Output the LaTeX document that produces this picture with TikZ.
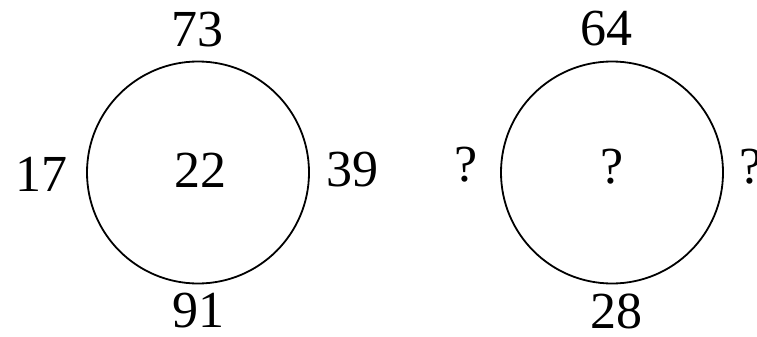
\documentclass[tikz,border=0pt]{standalone}
\usepackage{fontspec}
\setmainfont{Liberation Serif}
\usepackage{tikz}
\usetikzlibrary{positioning}
\tikzset{
  ringnode/.style={draw=black,line width=1.8pt,circle,minimum size=222pt,inner sep=0pt},
  numlabel/.style={font=\fontsize{52}{60}\selectfont,inner sep=0pt}
}
\begin{document}
\begin{tikzpicture}[x=1pt,y=-1pt]
  \useasboundingbox (0,0) rectangle (757,337);
  % left ring, all numbers given
  \node[ringnode] (ringA) at (198,172.5) {};
  \node[numlabel] (topA) at (197,30) {73};
  \node[numlabel] (leftA) at (41,174) {17};
  \node[numlabel] (midA) at (200,170) {22};
  \node[numlabel] (rightA) at (352,170) {39};
  \node[numlabel] (botA) at (198,311) {91};

  % right ring, the unknowns
  \node[ringnode] (ringB) at (612,172.5) {};
  \node[numlabel] (topB) at (606,29) {64};
  \node[numlabel] (leftB) at (466,165) {?};
  \node[numlabel] (midB) at (612,167) {?};
  \node[numlabel] (rightB) at (751,167) {?};
  \node[numlabel] (botB) at (616,311) {28};
\end{tikzpicture}
\end{document}
